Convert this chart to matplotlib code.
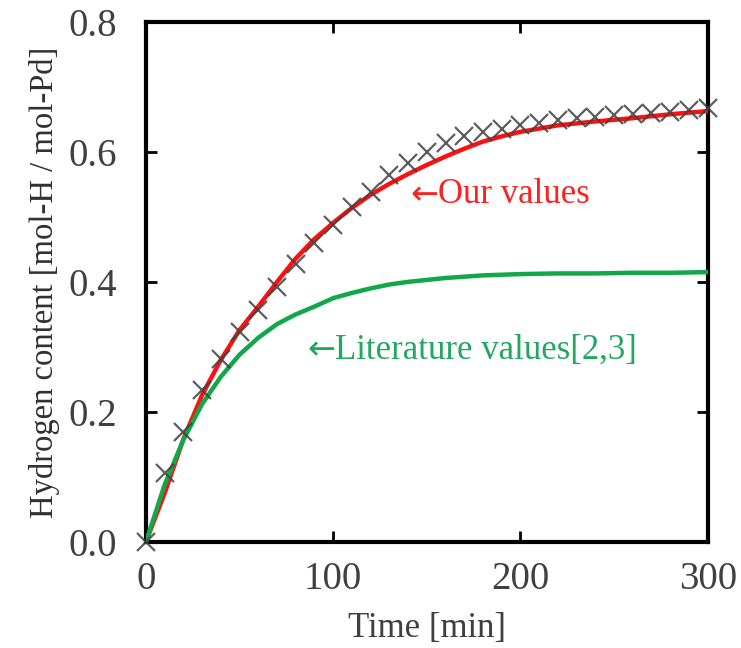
import matplotlib
matplotlib.use("Agg")
import matplotlib.pyplot as plt

# measured hydrogen content (crosses), every 10 min
t_meas = [0, 10, 20, 30, 40, 50, 60, 70, 80, 90, 100, 110, 120, 130, 140, 150,
          160, 170, 180, 190, 200, 210, 220, 230, 240, 250, 260, 270, 280, 290, 300]
h_meas = [0.000, 0.106, 0.169, 0.234, 0.282, 0.323, 0.356, 0.392, 0.427, 0.460,
          0.487, 0.516, 0.538, 0.564, 0.583, 0.600, 0.614, 0.624, 0.631, 0.636,
          0.642, 0.645, 0.649, 0.652, 0.654, 0.657, 0.658, 0.660, 0.662, 0.665, 0.668]

# calculated curves
t_calc = [0, 10, 20, 30, 40, 50, 60, 70, 80, 90, 100, 110, 120, 130, 140, 150,
          160, 170, 180, 190, 200, 220, 240, 260, 280, 300]
h_ours = [0.000, 0.075, 0.158, 0.226, 0.280, 0.326, 0.362, 0.400, 0.436, 0.466,
          0.491, 0.514, 0.534, 0.551, 0.566, 0.580, 0.593, 0.605, 0.616, 0.624,
          0.631, 0.641, 0.647, 0.652, 0.658, 0.663]
h_lit = [0.000, 0.088, 0.157, 0.212, 0.254, 0.288, 0.314, 0.335, 0.350, 0.362,
         0.375, 0.383, 0.390, 0.396, 0.400, 0.403, 0.406, 0.408, 0.410, 0.411,
         0.412, 0.413, 0.413, 0.414, 0.414, 0.415]

plt.rcParams['font.family'] = ['Liberation Serif', 'DejaVu Serif']

fig = plt.figure(figsize=(7.41, 6.48), dpi=100)
ax = fig.add_axes([0.197, 0.164, 0.758, 0.802])

ax.plot(t_calc, h_ours, color='#ff1010', lw=3.2, zorder=3)
ax.plot(t_calc, h_lit, color='#10a848', lw=3.2, zorder=4)
ax.plot(t_meas, h_meas, ls='none', marker='x', ms=13, mew=1.6,
        color='#404040', alpha=0.85, zorder=5, clip_on=False)

# arrow drawn in DejaVu Sans so it comes out long
for x0, y0, lab, col in [(141, 0.534, 'Our values', '#ff2020'),
                         (86, 0.295, 'Literature values[2,3]', '#20a860')]:
    a = ax.text(x0, y0, '\u2190', color=col, fontsize=24, va='center',
                ha='left', family='DejaVu Sans')
    ax.annotate(lab, xy=(1, 0.5), xycoords=a, xytext=(0, 0),
                textcoords='offset points', color=col, fontsize=25,
                va='center', ha='left')

ax.set_xlim(0, 300)
ax.set_ylim(0, 0.8)
ax.set_xticks([0, 100, 200, 300])
ax.set_yticks([0.0, 0.2, 0.4, 0.6, 0.8])
ax.set_yticklabels(['0.0', '0.2', '0.4', '0.6', '0.8'])
ax.tick_params(direction='in', length=8, width=2, top=True, right=True,
               labelsize=28, labelcolor='#404040')
ax.tick_params(axis='x', pad=14)
ax.tick_params(axis='y', pad=21)
for s in ax.spines.values():
    s.set_linewidth(3)

ax.set_xlabel('Time [min]', fontsize=25, color='#404040', labelpad=10)
ax.set_ylabel('Hydrogen content [mol-H / mol-Pd]', fontsize=23.5, color='#303030',
              labelpad=6)

fig.savefig('out.png', dpi=100)
